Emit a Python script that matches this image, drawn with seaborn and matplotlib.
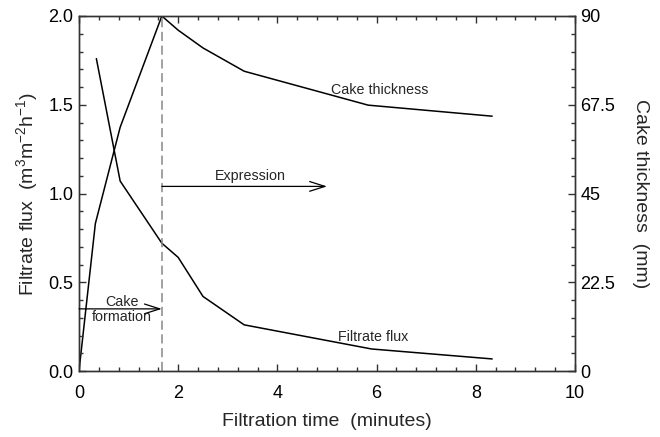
import matplotlib
matplotlib.use("Agg")
import matplotlib.pyplot as plt
import seaborn as sns
import pandas as pd
from matplotlib.ticker import MultipleLocator, FixedLocator, FixedFormatter

# ---- data ----
thick_time = [0, 0.33, 0.83, 1.67, 2.0, 2.5, 3.33, 5.83, 8.33]
thickness = [0, 37.4, 61.8, 90, 86.4, 81.9, 76.0, 67.4, 64.6]
flux_time = [0.35, 0.83, 1.67, 2.0, 2.5, 3.33, 5.9, 8.33]
flux = [1.76, 1.07, 0.72, 0.64, 0.42, 0.26, 0.124, 0.068]
x_ticks = [0, 2, 4, 6, 8, 10]
left_ticks = [0.0, 0.5, 1.0, 1.5, 2.0]
right_ticks = [0, 22.5, 45, 67.5, 90]
right_labels = ["0", "22.5", "45", "67.5", "90"]
expression_end = 1.67

sns.set_style("ticks")
plt.rcParams['font.family'] = ['Liberation Sans', 'DejaVu Sans']
plt.rcParams['mathtext.fontset'] = 'custom'
plt.rcParams['mathtext.rm'] = 'Liberation Sans'
plt.rcParams['mathtext.it'] = 'Liberation Sans:italic'
plt.rcParams['mathtext.default'] = 'regular'

fig = plt.figure(figsize=(6.6, 4.37), dpi=100)
ax = fig.add_axes([79/660, 1-371/437, (575-79)/660, (371-16)/437])
ax2 = ax.twinx()

df_f = pd.DataFrame({"t": flux_time, "v": flux})
df_t = pd.DataFrame({"t": thick_time, "v": thickness})
sns.lineplot(data=df_f, x="t", y="v", ax=ax, color="black", lw=1.1, sort=False)
sns.lineplot(data=df_t, x="t", y="v", ax=ax2, color="black", lw=1.1, sort=False)

ax.set_xlim(0, 10)
ax.set_ylim(0, 2.0)
ax2.set_ylim(0, 90)

ax.xaxis.set_major_locator(FixedLocator(x_ticks))
ax.xaxis.set_minor_locator(MultipleLocator(0.4))
ax.yaxis.set_major_locator(FixedLocator(left_ticks))
ax.yaxis.set_minor_locator(MultipleLocator(0.1))
ax.set_yticklabels([f"{v:.1f}" for v in left_ticks])
ax2.yaxis.set_major_locator(FixedLocator(right_ticks))
ax2.yaxis.set_major_formatter(FixedFormatter(right_labels))
ax2.yaxis.set_minor_locator(MultipleLocator(4.5))

for a in (ax, ax2):
    for s in a.spines.values():
        s.set_visible(True)
        s.set_linewidth(1.0)
        s.set_color("#333333")
ax.tick_params(axis="x", which="both", direction="in", top=True, bottom=True,
               labelsize=13, colors="#333333", labelcolor="black", pad=10)
ax.tick_params(axis="y", which="both", direction="in", left=True, right=False,
               labelsize=13, colors="#333333", labelcolor="black", pad=4)
ax2.tick_params(axis="y", which="both", direction="in", right=True,
                labelsize=13, colors="#333333", labelcolor="black", pad=4)
for a in (ax, ax2):
    a.tick_params(which="major", length=5, width=1)
    a.tick_params(which="minor", length=3, width=1)

ax.set_xlabel("Filtration time  (minutes)", fontsize=14, labelpad=8)
ax.set_ylabel("Filtrate flux  (m$^3$m$^{-2}$h$^{-1}$)", fontsize=14, labelpad=6)
ax2.set_ylabel("Cake thickness  (mm)", fontsize=14, rotation=270, labelpad=24)

# dashed divider
ax.axvline(expression_end, color="#888888", lw=1.1, ls=(0, (6, 3)))

arrow = dict(arrowstyle="->,head_length=1.1,head_width=0.35", color="black",
             lw=0.9, shrinkA=0, shrinkB=0, mutation_scale=10)
ax.annotate("", xy=(5.0, 1.04), xytext=(expression_end, 1.04), arrowprops=arrow)
ax.annotate("", xy=(expression_end, 0.35), xytext=(0, 0.35), arrowprops=arrow)
fs = 10.3
ax.text(3.45, 1.10, "Expression", fontsize=fs, ha="center", va="center")
ax.text(0.87, 0.345, "Cake\nformation", fontsize=fs, ha="center", va="center",
        linespacing=1.1)
ax.text(6.07, 1.585, "Cake thickness", fontsize=fs, ha="center", va="center")
ax.text(5.93, 0.19, "Filtrate flux", fontsize=fs, ha="center", va="center")

ax.set_zorder(ax2.get_zorder() + 1)
ax.patch.set_visible(False)

fig.savefig("out.png", dpi=100)
